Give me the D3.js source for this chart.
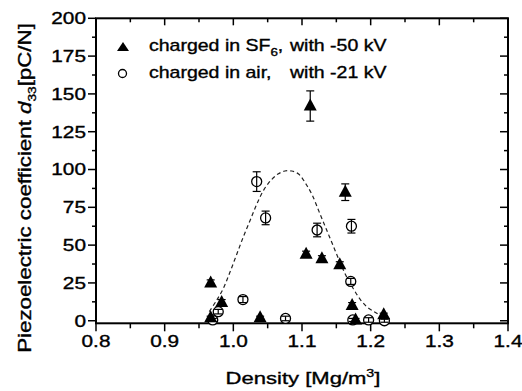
<!DOCTYPE html>
<html>
<head>
<meta charset="utf-8">
<script src="https://cdn.jsdelivr.net/npm/d3@7"></script>
<style>
  html, body { margin: 0; padding: 0; background: #fff; }
  svg { display: block; }
  text { font-family: "Liberation Sans", Arial, Helvetica, sans-serif; fill: #000; stroke: #000; stroke-width: 0.35px; }
</style>
</head>
<body>
<svg id="chart" width="522" height="391"></svg>
<script>
// ---------- data ----------
const sf6Density = [0.967, 0.967, 0.983, 1.039, 1.112, 1.106, 1.129, 1.155, 1.163, 1.173, 1.178, 1.219];
const sf6D33     = [25,    2,     12,    2,     142,   44,    41,    37,    85,    10,    0.5,   4];
const sf6Err     = [2,     1,     2,     1,     10,    2,     2,     2,     5.5,   2,     1,     1];

const airDensity = [0.970, 0.978, 1.014, 1.034, 1.047, 1.076, 1.122, 1.172, 1.171, 1.174, 1.197, 1.220];
const airD33     = [0.5,   6,     14,    92,    68,    1.5,   60,    62.5,  26,    0.5,   0.5,   0];
const airErr     = [1,     1.5,   2,     6.5,   4.5,   1.5,   4.5,   4.5,   2,     1,     1.5,   1];

const fitDensity = [0.965, 0.975, 0.985, 0.995, 1.005, 1.015, 1.025, 1.035, 1.045, 1.055, 1.065, 1.075, 1.085,
                    1.095, 1.105, 1.115, 1.125, 1.135, 1.145, 1.155, 1.165, 1.175, 1.185, 1.195, 1.205, 1.212];
const fitD33     = [6, 13, 21, 32, 44, 56, 67, 78, 87, 93, 97, 99, 99,
                    97, 91, 83, 72, 61, 50, 39, 29, 21, 14, 9, 6, 4];

const xTicks = [0.8, 0.9, 1.0, 1.1, 1.2, 1.3, 1.4];
const xTickLabels = ["0.8", "0.9", "1.0", "1.1", "1.2", "1.3", "1.4"];
const xMinor = [0.85, 0.95, 1.05, 1.15, 1.25, 1.35];
const yTicks = [0, 25, 50, 75, 100, 125, 150, 175, 200];
const yMinor = [12.5, 37.5, 62.5, 87.5, 112.5, 137.5, 162.5, 187.5];

const legendLabels = [
  { main: "charged in SF", sub: "6", tail: ",", rest: "with -50 kV", symbol: "triangle" },
  { main: "charged in air,", sub: "", tail: "", rest: "with -21 kV", symbol: "circle" }
];

// ---------- layout ----------
const svg = d3.select("#chart");
const x = d3.scaleLinear().domain([0.8, 1.4]).range([96, 508]);
const y = d3.scaleLinear().domain([-1.7, 200]).range([323.3, 18.3]);
const X0 = x.range()[0], X1 = x.range()[1], Y0 = y.range()[0], Y1 = y.range()[1];

function stretchText(sel, target) {
  const w = sel.node().getBBox().width;
  sel.attr("transform", `scale(${target / w},1)`);
}
function stretchBy(sel, s) { sel.attr("transform", `scale(${s},1)`); }

const TICK_SCALE = 1.3;

// fit curve (dashed)
const line = d3.line().x((d, i) => x(fitDensity[i])).y((d, i) => y(fitD33[i])).curve(d3.curveCatmullRom);
svg.append("path").datum(fitD33).attr("d", line)
  .attr("fill", "none").attr("stroke", "#222").attr("stroke-width", 1.2)
  .attr("stroke-dasharray", "4,3");

// frame
svg.append("rect").attr("x", X0).attr("y", Y1).attr("width", X1 - X0).attr("height", Y0 - Y1)
  .attr("fill", "none").attr("stroke", "#000").attr("stroke-width", 2);

// ticks
const tk = svg.append("g").attr("stroke", "#000").attr("stroke-width", 1.5);
xTicks.forEach(v => {
  tk.append("line").attr("x1", x(v)).attr("x2", x(v)).attr("y1", Y0).attr("y2", Y0 + 8);
  tk.append("line").attr("x1", x(v)).attr("x2", x(v)).attr("y1", Y1).attr("y2", Y1 + 7);
});
xMinor.forEach(v => {
  tk.append("line").attr("x1", x(v)).attr("x2", x(v)).attr("y1", Y0).attr("y2", Y0 + 5);
  tk.append("line").attr("x1", x(v)).attr("x2", x(v)).attr("y1", Y1).attr("y2", Y1 + 4);
});
yTicks.forEach(v => {
  tk.append("line").attr("x1", X0 - 8).attr("x2", X0).attr("y1", y(v)).attr("y2", y(v));
  tk.append("line").attr("x1", X1 - 8).attr("x2", X1).attr("y1", y(v)).attr("y2", y(v));
});
yMinor.forEach(v => {
  tk.append("line").attr("x1", X0 - 4).attr("x2", X0).attr("y1", y(v)).attr("y2", y(v));
  tk.append("line").attr("x1", X1 - 4).attr("x2", X1).attr("y1", y(v)).attr("y2", y(v));
});

// tick labels
xTicks.forEach((v, i) => {
  const g = svg.append("g").attr("transform", `translate(${x(v)},${347})`);
  const t = g.append("text").attr("text-anchor", "middle").attr("font-size", 16).text(xTickLabels[i]);
  stretchBy(t, TICK_SCALE);
});
yTicks.forEach(v => {
  const g = svg.append("g").attr("transform", `translate(${86},${y(v) + 5.8})`);
  const t = g.append("text").attr("text-anchor", "end").attr("font-size", 16).text(String(v));
  stretchBy(t, TICK_SCALE);
});

// axis titles
{
  const g = svg.append("g").attr("transform", `translate(${303},${384})`);
  const t = g.append("text").attr("text-anchor", "middle").attr("font-size", 17);
  t.append("tspan").text("Density [Mg/m");
  t.append("tspan").attr("font-size", 11).attr("dy", -7).text("3");
  t.append("tspan").attr("dy", 7).text("]");
  stretchText(t, 155);
}
{
  const g = svg.append("g").attr("transform", `translate(${31},${188}) rotate(-90)`);
  const t = g.append("text").attr("text-anchor", "middle").attr("font-size", 18);
  t.append("tspan").text("Piezoelectric coefficient ");
  t.append("tspan").attr("font-style", "italic").text("d");
  t.append("tspan").attr("font-size", 11).attr("dy", 5).text("33");
  t.append("tspan").attr("dy", -5).text("[pC/N]");
  stretchText(t, 330);
}

// symbols
const triPath = "M0,-7.5 L6.5,4.5 L-6.5,4.5 Z";
function drawErr(g, xs, ys, es) {
  xs.forEach((d, i) => {
    const cx = x(d), top = y(ys[i] + es[i]), bot = y(ys[i] - es[i]);
    g.append("line").attr("x1", cx).attr("x2", cx).attr("y1", top).attr("y2", bot);
    g.append("line").attr("x1", cx - 4).attr("x2", cx + 4).attr("y1", top).attr("y2", top);
    g.append("line").attr("x1", cx - 4).attr("x2", cx + 4).attr("y1", bot).attr("y2", bot);
  });
}
const airG = svg.append("g");
airDensity.forEach((d, i) => {
  airG.append("circle").attr("cx", x(d)).attr("cy", y(airD33[i])).attr("r", 5)
    .attr("fill", "#fff").attr("stroke", "#000").attr("stroke-width", 1.3);
});
drawErr(svg.append("g").attr("stroke", "#000").attr("stroke-width", 1.2), airDensity, airD33, airErr);

const sfG = svg.append("g");
sf6Density.forEach((d, i) => {
  sfG.append("path").attr("d", triPath).attr("transform", `translate(${x(d)},${y(sf6D33[i])})`).attr("fill", "#000");
});
drawErr(svg.append("g").attr("stroke", "#000").attr("stroke-width", 1.2), sf6Density, sf6D33, sf6Err);

// legend
const legY = [51, 77.5];
legendLabels.forEach((L, i) => {
  if (L.symbol === "triangle") {
    svg.append("path").attr("d", "M0,-5 L6,4 L-6,4 Z").attr("transform", `translate(123,${legY[i] - 4})`).attr("fill", "#000");
  } else {
    svg.append("circle").attr("cx", 122.5).attr("cy", legY[i] - 4).attr("r", 4)
      .attr("fill", "none").attr("stroke", "#000").attr("stroke-width", 1.3);
  }
  const g1 = svg.append("g").attr("transform", `translate(149,${legY[i]})`);
  const t1 = g1.append("text").attr("font-size", 16);
  t1.append("tspan").text(L.main);
  if (L.sub) {
    t1.append("tspan").attr("font-size", 11).attr("dy", 5).text(L.sub);
    t1.append("tspan").attr("dy", -5).text(L.tail);
  }
  stretchBy(t1, 1.22);
  const g2 = svg.append("g").attr("transform", `translate(290,${legY[i]})`);
  const t2 = g2.append("text").attr("font-size", 16).text(L.rest);
  stretchBy(t2, 1.22);
});
</script>
</body>
</html>
